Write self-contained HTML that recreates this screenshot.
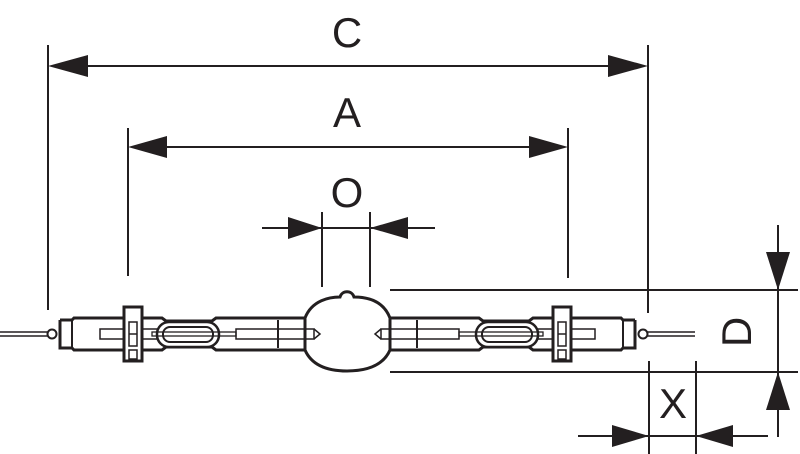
<!DOCTYPE html>
<html><head><style>html,body{margin:0;padding:0;background:#fff}svg{display:block}</style></head>
<body>
<svg width="800" height="454" viewBox="0 0 800 454" xmlns="http://www.w3.org/2000/svg">
<g stroke="#231f20" fill="none" stroke-width="2">
<!-- C -->
<line x1="48" y1="45" x2="48" y2="310"/><line x1="648" y1="45" x2="648" y2="313"/>
<line x1="60" y1="66" x2="636" y2="66"/>
<!-- A -->
<line x1="128" y1="128" x2="128" y2="276"/><line x1="568" y1="128" x2="568" y2="278"/>
<line x1="140" y1="147" x2="556" y2="147"/>
<!-- O -->
<line x1="322" y1="212" x2="322" y2="287"/><line x1="370" y1="212" x2="370" y2="287"/>
<line x1="262" y1="228" x2="435" y2="228"/>
<!-- D -->
<line x1="778" y1="225" x2="778" y2="437"/>
<line x1="390" y1="290" x2="798" y2="290"/><line x1="390" y1="372" x2="798" y2="372"/>
<!-- X -->
<line x1="649" y1="361" x2="649" y2="454"/><line x1="696" y1="361" x2="696" y2="454"/>
<line x1="578" y1="436" x2="768" y2="436"/>
</g>
<g fill="#231f20">
<polygon points="48,66 88,55 88,77"/><polygon points="648,66 608,55 608,77"/>
<polygon points="128,147 167,136 167,158"/><polygon points="568,147 529,136 529,158"/>
<polygon points="322,228 288,217 288,239"/><polygon points="370,228 408,217 408,239"/>
<polygon points="778,290 766,252 790,252"/><polygon points="778,372 766,410 790,410"/>
<polygon points="649,436 612,425 612,447"/><polygon points="696,436 733,425 733,447"/>
</g>
<g font-family="Liberation Sans, sans-serif" font-size="42" fill="#231f20" text-anchor="middle">
<text x="347" y="47">C</text>
<text x="347" y="127">A</text>
<text x="347" y="207">O</text>
<text x="673" y="418">X</text>
<text transform="translate(751,332) rotate(-90)" >D</text>
</g>
<!-- lamp -->
<defs>
<g id="half" stroke="#231f20" fill="none">
<line x1="0" y1="332" x2="48" y2="332" stroke-width="1.5"/>
<line x1="0" y1="336" x2="48" y2="336" stroke-width="1.5"/>
<circle cx="52" cy="334" r="4.5" fill="#fff" stroke-width="2"/>
<path d="M60,320 H72 L74,318 H162 L166,321 H212 L216,318 H305 M60,320 V348 H72 L74,350 H162 L166,347 H212 L216,350 H305" stroke-width="3"/>
<line x1="72" y1="320" x2="72" y2="348" stroke-width="2"/>
<rect x="100" y="329" width="75" height="10" stroke-width="1.5"/>
<rect x="124" y="307" width="18" height="54" fill="#fff" stroke-width="3"/>
<rect x="129" y="322" width="8" height="24" stroke-width="1.5"/>
<line x1="129" y1="334" x2="137" y2="334" stroke-width="1.5"/>
<rect x="129" y="350" width="8" height="9" stroke-width="1.5"/>
<rect x="157" y="322" width="62" height="25" rx="12" fill="#fff" stroke-width="2.5"/>
<rect x="163" y="327" width="50" height="15" rx="7" stroke-width="2"/>
<rect x="152" y="332" width="84" height="4" stroke-width="1.3"/>
<rect x="236" y="329" width="78" height="10" stroke-width="1.5"/>
<path d="M314,329 L320,334 L314,339" stroke-width="1.5"/>
<line x1="278" y1="320" x2="278" y2="348" stroke-width="2"/>
<line x1="305" y1="318" x2="305" y2="350" stroke-width="2"/>
</g>
</defs>
<use href="#half"/>
<use href="#half" transform="translate(695,0) scale(-1,1)"/>
<path d="M305,318 C312,300 330,297 340,297 C342,290 352,290 354,297 C366,297 383,300 390,318 L390,350 C383,366 366,371 347,371 C328,371 312,366 305,350 Z" fill="none" stroke="#231f20" stroke-width="3"/>
<path d="M305,322 V346 M390,322 V346" stroke="#231f20" stroke-width="2"/>
</svg>
</body></html>
